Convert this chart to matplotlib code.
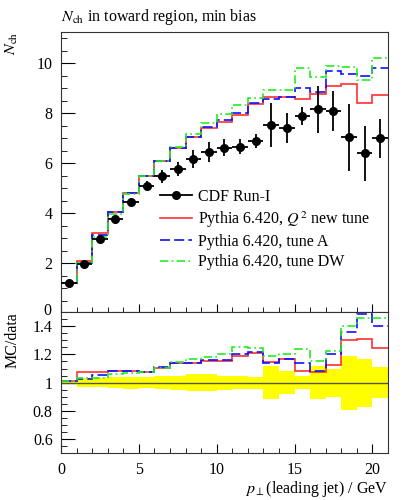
import numpy as np
import matplotlib
matplotlib.use("Agg")
import matplotlib.pyplot as plt
from matplotlib.lines import Line2D
from matplotlib.ticker import MultipleLocator, FuncFormatter

plt.rcParams['font.family'] = ['Liberation Serif', 'DejaVu Serif']
plt.rcParams['mathtext.fontset'] = 'stix'

# bins of 1 GeV in leading jet pT
edges = np.arange(0, 22, 1)
centres = edges[:-1] + 0.5

# CDF Run-I data
data = [1.2, 1.96, 2.96, 3.76, 4.44, 5.1, 5.49, 5.78, 6.17, 6.44, 6.63,
        6.67, 6.89, 7.53, 7.42, 7.9, 8.17, 8.09, 7.05, 6.4, 7.0]
data_err = [0.014, 0.06, 0.1, 0.15, 0.19, 0.21, 0.26, 0.29, 0.36, 0.4, 0.33,
            0.31, 0.29, 0.89, 0.59, 0.36, 0.94, 0.81, 1.34, 1.09, 0.77]

# Pythia 6.420 predictions
q2_new = [1.213, 2.107, 3.191, 4.061, 4.804, 5.483, 6.072, 6.601, 7.034, 7.425, 7.658,
          7.937, 8.351, 8.652, 8.644, 8.556, 8.783, 9.085, 9.179, 8.397, 8.736]
tune_a = [1.212, 2.005, 3.114, 4.068, 4.804, 5.498, 6.094, 6.601, 7.034, 7.47, 7.711,
          8.004, 8.406, 8.562, 8.644, 9.006, 8.848, 9.708, 9.588, 9.504, 9.8]
tune_dw = [1.212, 2.019, 3.049, 3.982, 4.751, 5.498, 6.072, 6.641, 7.188, 7.625, 7.989,
           8.331, 8.599, 8.931, 8.926, 9.796, 9.436, 9.902, 9.87, 9.312, 10.22]

data = np.array(data)
data_err = np.array(data_err)
rel = data_err / data

mc = [(q2_new, 'Pythia 6.420, $Q^2$ new tune', '#ff3030', '-'),
      (tune_a, 'Pythia 6.420, tune A', '#1010ff', (0, (6, 2.5))),
      (tune_dw, 'Pythia 6.420, tune DW', '#22ee22', (0, (5, 2, 1, 2)))]

fig = plt.figure(figsize=(4.06, 5.0), dpi=100)
ax = fig.add_axes([61/406, 1-312/500, 327/406, 280/500])
rax = fig.add_axes([61/406, 1-453.3/500, 327/406, 141.3/500])

fs = 11.5

# main panel
for vals, lab, col, ls in mc:
    ax.stairs(vals, edges, baseline=None, color=col, lw=1.2, ls=ls)
ax.errorbar(centres, data, xerr=0.5, yerr=data_err, fmt='o', color='black',
            ms=5.5, lw=1.3, capsize=0, zorder=5)

ax.set_xlim(0, 21)
ax.set_ylim(0.05, 11.25)
ax.xaxis.set_major_locator(MultipleLocator(5))
ax.xaxis.set_minor_locator(MultipleLocator(1))
ax.yaxis.set_major_locator(MultipleLocator(2))
ax.yaxis.set_minor_locator(MultipleLocator(0.5))
ax.tick_params(axis='both', which='both', direction='in', labelsize=fs,
               top=False, right=False, labelbottom=False, pad=6)
ax.tick_params(axis='y', which='major', length=10)
ax.tick_params(axis='y', which='minor', length=4.5)
ax.tick_params(axis='x', which='major', length=6)
ax.tick_params(axis='x', which='minor', length=3.5)

ax.set_ylabel('$N_{\\rm ch}$', fontsize=fs, loc='top')
ax.yaxis.set_label_coords(-0.125, 1.0)
ax.set_title('$N_{\\rm ch}$ in toward region, min bias', fontsize=fs,
             loc='left', pad=8)

handles = [Line2D([], [], color='black', marker='o', ms=5.5, lw=1.3)]
labels = ['CDF Run-I']
for vals, lab, col, ls in mc:
    handles.append(Line2D([], [], color=col, lw=1.2, ls=ls))
    labels.append(lab)
ax.legend(handles, labels, loc='upper left', bbox_to_anchor=(0.303, 0.44),
          frameon=False, fontsize=fs, borderpad=0, handlelength=2.0,
          handletextpad=0.4, labelspacing=0.27, borderaxespad=0)

# ratio panel
rax.stairs(1 + rel, edges, baseline=1 - rel, fill=True, color='#ffff00', lw=0)
rax.axhline(1, color='#555533', lw=1)
for vals, lab, col, ls in mc:
    rax.stairs(np.array(vals) / data, edges, baseline=None, color=col, lw=1.2, ls=ls)

rax.set_xlim(0, 21)
rax.set_ylim(0.5, 1.5)
rax.xaxis.set_major_locator(MultipleLocator(5))
rax.xaxis.set_minor_locator(MultipleLocator(1))
rax.yaxis.set_major_locator(MultipleLocator(0.2))
rax.yaxis.set_minor_locator(MultipleLocator(0.05))
rax.yaxis.set_major_formatter(FuncFormatter(lambda v, p: '%g' % round(v, 2)))
rax.tick_params(axis='both', which='both', direction='in', labelsize=fs,
                top=False, right=False, pad=6)
rax.tick_params(axis='y', which='major', length=10)
rax.tick_params(axis='y', which='minor', length=4.5)
rax.tick_params(axis='x', which='major', length=6.5)
rax.tick_params(axis='x', which='minor', length=3.5)

rax.set_ylabel('MC/data', fontsize=fs, loc='top')
rax.yaxis.set_label_coords(-0.125, 1.0)
rax.set_xlabel('$p_\\perp$(leading jet) / GeV', fontsize=fs, loc='right')
rax.xaxis.set_label_coords(1.0, -0.185)

for a in (ax, rax):
    for s in a.spines.values():
        s.set_linewidth(0.8)
        s.set_color('#333333')

# stray zero label left over between the panels
fig.text(47/406, 1-311/500, '0', fontsize=fs, ha='center', va='center')

fig.savefig('out.png', dpi=100)
